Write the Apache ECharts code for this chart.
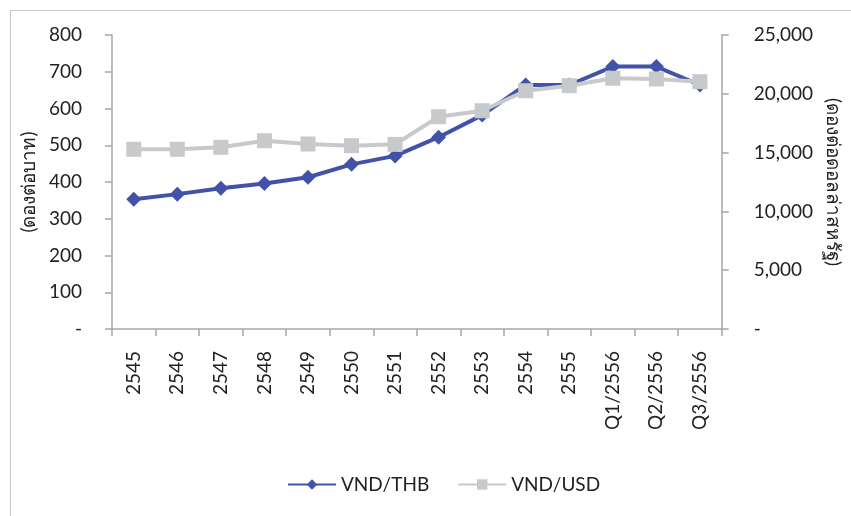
<!DOCTYPE html>
<html>
<head>
<meta charset="utf-8">
<script src="https://cdn.jsdelivr.net/npm/echarts@6/dist/echarts.min.js"></script>
<style>
  html, body { margin: 0; padding: 0; background: #fff; }
  #chart { width: 851px; height: 516px; }
</style>
</head>
<body>
<div id="chart"></div>
<script>
  var categories = ['2545', '2546', '2547', '2548', '2549', '2550', '2551', '2552', '2553', '2554', '2555', 'Q1/2556', 'Q2/2556', 'Q3/2556'];
  // ดองต่อบาท (left axis)
  var vndThb = [353, 367, 383, 396, 413, 448, 471, 522, 582, 664, 664, 714, 714, 664];
  // ดองต่อดอลล่าร์สหรัฐ (right axis)
  var vndUsd = [15280, 15280, 15450, 16010, 15730, 15590, 15700, 18050, 18560, 20260, 20690, 21320, 21260, 21030];
  var leftTicks = [0, 800, 100];
  var rightTicks = [0, 25000, 5000];

  var font = 'Lato, "Open Sans", "Noto Sans", sans-serif';
  var axisGray = '#a6a6a6';

  var chart = echarts.init(document.getElementById('chart'));

  function numFmt(v) {
    if (v === 0) return '-';
    return v.toString().replace(/\B(?=(\d{3})+(?!\d))/g, ',');
  }

  var option = {
    animation: false,
    backgroundColor: '#fff',
    textStyle: { fontFamily: font, color: '#222' },
    graphic: [{
      type: 'rect',
      shape: { x: 10.5, y: 10.5, width: 900, height: 600 },
      style: { fill: 'none', stroke: '#c8c8c8', lineWidth: 1 },
      silent: true
    }],
    grid: { left: 112, right: 123, top: 35, bottom: 187 },
    legend: {
      bottom: 17,
      left: 282,
      itemWidth: 48,
      itemHeight: 13,
      itemGap: 28,
      textStyle: { fontSize: 19, color: '#222', fontFamily: font },
      data: ['VND/THB', 'VND/USD']
    },
    xAxis: {
      type: 'category',
      data: categories,
      boundaryGap: true,
      axisLine: { lineStyle: { color: axisGray, width: 1.5 } },
      axisTick: { show: true, length: 7, lineStyle: { color: axisGray, width: 1.5 } },
      axisLabel: { rotate: 90, fontSize: 19, color: '#222', margin: 22, fontFamily: font }
    },
    yAxis: [{
      type: 'value',
      min: leftTicks[0],
      max: leftTicks[1],
      interval: leftTicks[2],
      name: '(ดองต่อบาท)',
      nameLocation: 'middle',
      nameRotate: 90,
      nameGap: 72,
      nameTextStyle: { fontSize: 19, color: '#222' },
      splitLine: { show: false },
      axisLine: { show: true, lineStyle: { color: axisGray, width: 1.5 } },
      axisTick: { show: true, length: 7, lineStyle: { color: axisGray, width: 1.5 } },
      axisLabel: { fontSize: 19, color: '#222', margin: 30, formatter: numFmt, fontFamily: font }
    }, {
      type: 'value',
      position: 'right',
      min: rightTicks[0],
      max: rightTicks[1],
      interval: rightTicks[2],
      name: '(ดองต่อดอลล่าสหรัฐ)',
      nameLocation: 'middle',
      nameRotate: -90,
      nameGap: 100,
      nameTextStyle: { fontSize: 19, color: '#222' },
      splitLine: { show: false },
      axisLine: { show: true, lineStyle: { color: axisGray, width: 1.5 } },
      axisTick: { show: true, length: 7, lineStyle: { color: axisGray, width: 1.5 } },
      axisLabel: { fontSize: 19, color: '#222', margin: 32, formatter: numFmt, fontFamily: font }
    }],
    series: [{
      name: 'VND/THB',
      type: 'line',
      yAxisIndex: 0,
      data: vndThb,
      symbol: 'diamond',
      symbolSize: 15,
      itemStyle: { color: '#4152a8' },
      lineStyle: { color: '#4152a8', width: 4 },
      z: 2
    }, {
      name: 'VND/USD',
      type: 'line',
      yAxisIndex: 1,
      data: vndUsd,
      symbol: 'rect',
      symbolSize: 15,
      itemStyle: { color: '#c8c9cb' },
      lineStyle: { color: '#c8c9cb', width: 4 },
      z: 3
    }]
  };

  chart.setOption(option);
</script>
</body>
</html>
